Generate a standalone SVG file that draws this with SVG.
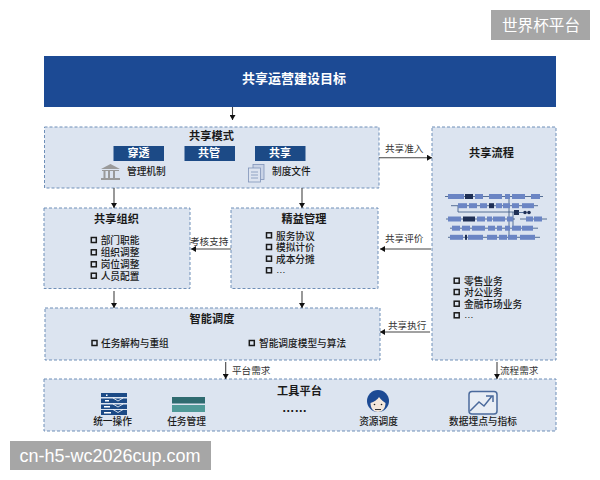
<svg xmlns="http://www.w3.org/2000/svg" width="600" height="480" viewBox="0 0 600 480">
<style>
text{font-family:"Liberation Sans","Noto Sans CJK SC",sans-serif;fill:#1a1a1a}
.box{fill:#dce4f0;stroke:#6f8fb8;stroke-width:1;stroke-dasharray:3 2}
.t{font-size:11.2px;font-weight:700;text-anchor:middle}
.l{font-size:9.7px;font-weight:500}
.c{font-size:9.7px;font-weight:500;text-anchor:middle}
.lab{font-size:9.6px;fill:#333}
.chk{fill:none;stroke:#1a1a1a;stroke-width:1.5}
.tag{fill:#1c4a86}
.tagt{font-size:11px;font-weight:700;fill:#fff;text-anchor:middle}
.conn{stroke:#444;stroke-width:1.1;fill:none;marker-end:url(#ah)}
.bar{fill:#6b85c4}
.dark{fill:#1e2f55}
.ln{stroke:#34507f;stroke-width:.8;fill:none}
.wm{fill:#a6a6a6}
</style>
<defs>
<marker id="ah" markerWidth="6" markerHeight="6" refX="5" refY="3" orient="auto" markerUnits="userSpaceOnUse"><path d="M0 0L5 3L0 6z" fill="#111"/></marker>
</defs>
<rect width="600" height="480" fill="#fff"/>

<g id="goal"><rect x="44" y="56" width="512" height="51" fill="#1c4a94"/><text x="294" y="83" class="t" style="fill:#fff;font-size:13px">共享运营建设目标</text></g>

<g id="mode">
<rect class="box" x="44.500" y="127" width="334.500" height="61"/>
<text class="t" x="211.500" y="140">共享模式</text>
<rect class="tag" x="113.500" y="146" width="50.500" height="15"/><text class="tagt" x="138.500" y="157">穿透</text>
<rect class="tag" x="184.500" y="146" width="50.500" height="15"/><text class="tagt" x="209" y="157">共管</text>
<rect class="tag" x="255" y="146" width="50.500" height="15"/><text class="tagt" x="280" y="157">共享</text>
<g fill="#9a9a9a"><path d="M101 169L110.500 164L120 169z"/><rect x="102" y="170" width="17" height="1"/><rect x="103.500" y="171" width="2" height="7"/><rect x="108" y="171" width="2" height="7"/><rect x="113" y="171" width="2" height="7"/><rect x="101" y="178" width="19" height="2"/></g>
<text class="l" x="127" y="174.500">管理机制</text>
<g fill="#c9d3e6" stroke="#7f93b8" stroke-width=".8"><rect x="253" y="164.500" width="11" height="15"/><rect x="248.500" y="168" width="12" height="14" fill="#dde4f0"/><path d="M251 172h7M251 175h7M251 178h7"/></g>
<text class="l" x="272" y="174.500">制度文件</text>
</g>

<g id="org">
<rect class="box" x="44" y="208" width="146" height="80.500"/>
<text class="t" x="116.500" y="223">共享组织</text>
<rect class="chk" x="91.300" y="237.500" width="5" height="5"/><text class="l" x="100.700" y="244">部门职能</text>
<rect class="chk" x="91.300" y="249.800" width="5" height="5"/><text class="l" x="100.700" y="256">组织调整</text>
<rect class="chk" x="91.300" y="261.800" width="5" height="5"/><text class="l" x="100.700" y="268">岗位调整</text>
<rect class="chk" x="91.300" y="273.200" width="5" height="5"/><text class="l" x="100.700" y="279.500">人员配置</text>
</g>

<g id="lean">
<rect class="box" x="231" y="208" width="147" height="80.500"/>
<text class="t" x="304" y="223">精益管理</text>
<rect class="chk" x="266.500" y="232.800" width="5" height="5"/><text class="l" x="276" y="239.500">服务协议</text>
<rect class="chk" x="266.500" y="244.500" width="5" height="5"/><text class="l" x="276" y="251">模拟计价</text>
<rect class="chk" x="266.500" y="256.200" width="5" height="5"/><text class="l" x="276" y="262.500">成本分摊</text>
<rect class="chk" x="266.500" y="267.800" width="5" height="5"/><text class="l" x="276" y="272.500">…</text>
</g>

<g id="process">
<rect class="box" x="432" y="127" width="124" height="233"/>
<text class="t" x="491.500" y="157">共享流程</text>
<g>
<path class="ln" d="M445 196.500H543M451 205.700H538M446 219H515M520 219H547M450 228.200H538M448 237.300H540"/>
<path class="ln" d="M458 206V212H517M509 196V238M513 212V230"/>
<rect class="bar" x="448" y="194" width="16" height="5"/><rect class="dark" x="465" y="194" width="8" height="5"/><rect class="bar" x="475" y="194" width="8" height="5"/><rect class="bar" x="489" y="194" width="13" height="5"/><rect class="bar" x="505" y="194" width="5" height="5"/><rect class="bar" x="512" y="194" width="13" height="5"/><rect class="bar" x="531" y="194" width="9" height="5"/>
<rect class="bar" x="458" y="203.200" width="9" height="5"/><rect class="bar" x="469" y="203.200" width="8" height="5"/><rect class="bar" x="480" y="203.200" width="7" height="5"/><rect class="dark" x="489" y="203.200" width="5" height="5"/><rect class="bar" x="496" y="203.200" width="6" height="5"/><rect class="bar" x="503" y="203.200" width="7" height="5"/><rect class="bar" x="512" y="203.200" width="7" height="5"/><rect class="bar" x="522" y="203.200" width="12" height="5"/>
<rect class="dark" x="514" y="210" width="5" height="5"/><circle class="dark" cx="525" cy="212.500" r="1.800"/><circle class="dark" cx="529" cy="212.500" r="1.800"/><path class="ln" d="M518 212.500H524"/>
<rect class="bar" x="448" y="216.500" width="13" height="5"/><rect class="dark" x="463" y="216.500" width="12" height="5"/><rect class="bar" x="477" y="216.500" width="8" height="5"/><rect class="bar" x="487" y="216.500" width="5" height="5"/><rect class="bar" x="493" y="216.500" width="12" height="5"/><rect class="bar" x="507" y="216.500" width="6" height="5"/><rect class="bar" x="526" y="216.500" width="7" height="5"/><rect class="bar" x="534" y="216.500" width="8" height="5"/>
<rect class="bar" x="452" y="225.700" width="8" height="5"/><rect class="bar" x="462" y="225.700" width="8" height="5"/><rect class="bar" x="472" y="225.700" width="13" height="5"/><rect class="bar" x="488" y="225.700" width="7" height="5"/><rect class="bar" x="497" y="225.700" width="5" height="5"/><rect class="bar" x="505" y="225.700" width="5" height="5"/><rect class="bar" x="512" y="225.700" width="9" height="5"/><rect class="bar" x="522" y="225.700" width="11" height="5"/>
<rect class="bar" x="450" y="234.800" width="13" height="5"/><rect class="dark" x="465" y="234.800" width="2" height="5"/><rect class="bar" x="468" y="234.800" width="15" height="5"/><rect class="bar" x="487" y="234.800" width="10" height="5"/><rect class="bar" x="499" y="234.800" width="8" height="5"/><rect class="bar" x="508" y="234.800" width="9" height="5"/><rect class="bar" x="520" y="234.800" width="15" height="5"/>
</g>
<rect class="chk" x="454.200" y="278.200" width="5" height="5"/><text class="l" x="464" y="284.500">零售业务</text>
<rect class="chk" x="454.200" y="289.500" width="5" height="5"/><text class="l" x="464" y="296">对公业务</text>
<rect class="chk" x="454.200" y="301.200" width="5" height="5"/><text class="l" x="464" y="307.500">金融市场业务</text>
<rect class="chk" x="454.200" y="312.800" width="5" height="5"/><text class="l" x="464" y="317.500">…</text>
</g>

<g id="dispatch">
<rect class="box" x="45" y="308" width="335" height="52"/>
<text class="t" x="212" y="323">智能调度</text>
<rect class="chk" x="92" y="340.500" width="5" height="5"/><text class="l" x="101" y="347">任务解构与重组</text>
<rect class="chk" x="249.300" y="340.500" width="5" height="5"/><text class="l" x="259" y="347">智能调度模型与算法</text>
</g>

<g id="tools">
<rect class="box" x="44" y="379" width="512" height="52"/>
<text class="t" x="299.500" y="395">工具平台</text>
<text class="t" x="294.500" y="412" style="font-size:12.500px">……</text>
<g fill="#1c4a86"><rect x="101" y="393" width="26" height="4"/><rect x="101" y="398.500" width="26" height="4.500"/><rect x="101" y="404.500" width="26" height="4.500"/><rect x="101" y="410" width="26" height="5"/></g>
<g fill="#fff"><rect x="106" y="394.500" width="1.500" height="1.500"/><rect x="105" y="400" width="4" height="1.500"/><rect x="104" y="406" width="6" height="1.500"/><rect x="104" y="412" width="7" height="1.500"/></g>
<path d="M113 398L118 401L123 398M113 404L118 407L123 404M113 409.500L118 412.500L123 409.500" fill="none" stroke="#fff" stroke-width=".8"/>
<text class="c" x="112.500" y="424.500">统一操作</text>
<rect x="172" y="397" width="33" height="6.500" fill="#2f6b70"/><rect x="172" y="405" width="33" height="7" fill="#4f9a98"/>
<text class="c" x="186.500" y="424.500">任务管理</text>
<circle cx="378" cy="401" r="11" fill="#1c4a94"/><path d="M370.500 403C374 402 378 399 379 397C381 400 384 402 385.500 403C385.500 409 382 412 378 412C374 412 370.500 409 370.500 403Z" fill="#f3e7dc"/><path d="M375 409.500H381" stroke="#333" stroke-width="1"/><circle cx="374.500" cy="404.500" r=".8" fill="#222"/><circle cx="381.500" cy="404.500" r=".8" fill="#222"/>
<text class="c" x="378.500" y="424.500">资源调度</text>
<rect x="469" y="391.500" width="28" height="22.500" rx="3" fill="#e8edf5" stroke="#4b6a9c" stroke-width="1.500"/><path d="M470 411L479 402L484 406L492 396M486 396H493V402" fill="none" stroke="#4b6a9c" stroke-width="1.500"/>
<text class="c" x="483" y="424.500">数据埋点与指标</text>
</g>

<g id="connectors">
<path class="conn" d="M232.500 107V120"/>
<path class="conn" d="M114 188V208"/>
<path class="conn" d="M302 188V208"/>
<path class="conn" d="M231 249H191"/>
<path class="conn" d="M379 157.700H432"/>
<path class="conn" d="M431 249H380"/>
<path class="conn" d="M430 332H380"/>
<path class="conn" d="M114 291V308"/>
<path class="conn" d="M302 291V308"/>
<path class="conn" d="M225.700 362V379"/>
<path class="conn" d="M497 362V379"/>
<text class="lab" x="385" y="152">共享准入</text>
<text class="lab" x="190" y="245">考核支持</text>
<text class="lab" x="385" y="242">共享评价</text>
<text class="lab" x="388" y="329">共享执行</text>
<text class="lab" x="232" y="374">平台需求</text>
<text class="lab" x="500" y="374">流程需求</text>
</g>

<g id="wm1"><rect class="wm" x="491" y="10" width="99" height="30"/><text x="541" y="31" style="fill:#fff;font-size:15.600px;text-anchor:middle">世界杯平台</text></g>
<g id="wm2"><rect class="wm" x="10" y="441" width="201" height="29"/><text x="110" y="461.500" style="fill:#fff;font-size:18px;text-anchor:middle">cn-h5-wc2026cup.com</text></g>
</svg>
